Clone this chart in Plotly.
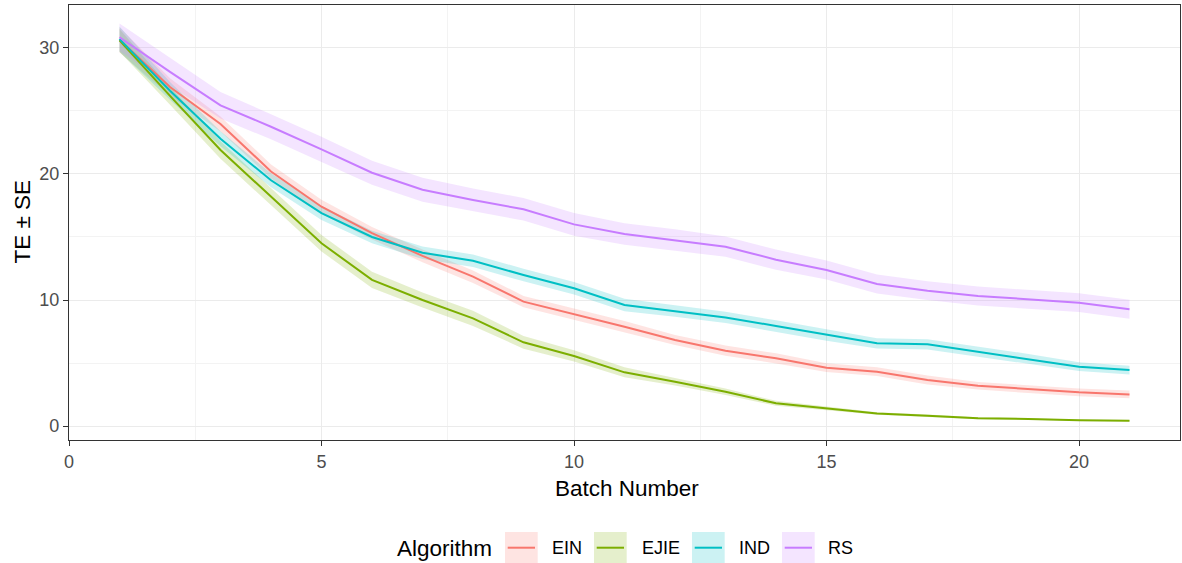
import plotly.graph_objects as go

batch = list(range(1, 22))
algorithms = ["EIN", "EJIE", "IND", "RS"]
colors = ["#F8766D", "#7CAE00", "#00BFC4", "#C77CFF"]

te_ein = [30.65, 26.9, 23.97, 20.2, 17.4, 15.3, 13.5, 11.85, 9.87, 8.89, 7.88, 6.83, 5.98, 5.37, 4.63, 4.31, 3.65, 3.2, 2.91, 2.67, 2.51]
te_ejie = [30.6, 26.2, 21.9, 18.2, 14.5, 11.6, 10.0, 8.54, 6.64, 5.56, 4.26, 3.52, 2.72, 1.8, 1.4, 1.0, 0.82, 0.61, 0.56, 0.45, 0.42]
te_ind = [30.7, 26.6, 22.8, 19.5, 16.9, 15.0, 13.75, 13.12, 11.98, 10.93, 9.6, 9.13, 8.62, 7.94, 7.22, 6.56, 6.48, 5.9, 5.32, 4.71, 4.44]
te_rs = [30.85, 28.1, 25.45, 23.75, 21.96, 20.1, 18.75, 17.94, 17.2, 16.0, 15.24, 14.76, 14.23, 13.2, 12.38, 11.27, 10.74, 10.32, 10.05, 9.79, 9.26]

se_ein = [1.0, 0.7, 0.6, 0.55, 0.55, 0.5, 0.5, 0.5, 0.45, 0.45, 0.45, 0.4, 0.4, 0.4, 0.35, 0.35, 0.35, 0.3, 0.3, 0.3, 0.3]
se_ejie = [0.9, 0.7, 0.7, 0.7, 0.65, 0.65, 0.6, 0.6, 0.5, 0.45, 0.4, 0.3, 0.25, 0.2, 0.15, 0.1, 0.1, 0.08, 0.06, 0.05, 0.05]
se_ind = [1.0, 0.7, 0.6, 0.55, 0.55, 0.5, 0.5, 0.5, 0.5, 0.5, 0.5, 0.45, 0.45, 0.45, 0.45, 0.4, 0.4, 0.4, 0.4, 0.35, 0.35]
se_rs = [1.1, 1.1, 1.05, 1.0, 1.0, 0.95, 0.95, 0.9, 0.9, 0.9, 0.85, 0.85, 0.8, 0.8, 0.75, 0.75, 0.75, 0.75, 0.75, 0.75, 0.75]

te_all = [te_ein, te_ejie, te_ind, te_rs]
se_all = [se_ein, se_ejie, se_ind, se_rs]


def rgba(hexc, a):
    h = hexc.lstrip("#")
    r, g, b = int(h[0:2], 16), int(h[2:4], 16), int(h[4:6], 16)
    return f"rgba({r},{g},{b},{a})"


W, H = 1182, 563
ML, MR, MT, MB = 69, 2, 5, 123
PW, PH = W - ML - MR, H - MT - MB


def px(xp):
    return (xp - ML) / PW


def py(yp):
    return (H - MB - yp) / PH


fig = go.Figure()

# ribbons
for name, col, te, se in zip(algorithms, colors, te_all, se_all):
    upper = [t + s for t, s in zip(te, se)]
    lower = [t - s for t, s in zip(te, se)]
    fig.add_trace(go.Scatter(x=batch, y=upper, mode="lines", line=dict(width=0),
                             showlegend=False, hoverinfo="skip"))
    fig.add_trace(go.Scatter(x=batch, y=lower, mode="lines", line=dict(width=0),
                             fill="tonexty", fillcolor=rgba(col, 0.2),
                             showlegend=False, hoverinfo="skip"))

# lines
for name, col, te in zip(algorithms, colors, te_all):
    fig.add_trace(go.Scatter(x=batch, y=te, mode="lines", name=name,
                             line=dict(color=col, width=2), showlegend=False))

font_family = "Liberation Sans, Arial, Helvetica, sans-serif"

axis_common = dict(
    showline=True, linecolor="#333333", linewidth=1.3, mirror=True,
    ticks="outside", ticklen=5, tickwidth=1.3, tickcolor="#333333",
    tickfont=dict(family=font_family, size=18, color="#4D4D4D"),
    showgrid=True, gridcolor="#EBEBEB", gridwidth=1.3,
    zeroline=False,
)

fig.update_layout(
    width=W, height=H,
    margin=dict(l=ML, r=MR, t=MT, b=MB),
    paper_bgcolor="white", plot_bgcolor="white",
    showlegend=False,
    font=dict(family=font_family),
    xaxis=dict(range=[0, 22], tickvals=[0, 5, 10, 15, 20],
               minor=dict(tickvals=[2.5, 7.5, 12.5, 17.5], showgrid=True,
                          gridcolor="#F3F3F3", gridwidth=0.8, ticks=""),
               **axis_common),
    yaxis=dict(range=[-1.11, 33.41], tickvals=[0, 10, 20, 30],
               minor=dict(tickvals=[5, 15, 25], showgrid=True,
                          gridcolor="#F3F3F3", gridwidth=0.8, ticks=""),
               **axis_common),
)

annotations = [
    dict(text="Batch Number", x=px(627), y=py(489), xref="paper", yref="paper",
         showarrow=False, font=dict(size=22.5, color="black", family=font_family),
         xanchor="center", yanchor="middle"),
    dict(text="TE ± SE", x=px(21.5), y=py(222), xref="paper", yref="paper",
         showarrow=False, textangle=-90,
         font=dict(size=22.5, color="black", family=font_family),
         xanchor="center", yanchor="middle"),
    dict(text="Algorithm", x=px(395), y=py(548), xref="paper", yref="paper",
         showarrow=False, font=dict(size=22.5, color="black", family=font_family),
         xanchor="left", yanchor="middle"),
]

shapes = []
key_left = [505, 594, 692, 782]
label_left = [550, 640, 737, 826]
for name, col, kl, ll in zip(algorithms, colors, key_left, label_left):
    shapes.append(dict(type="rect", xref="paper", yref="paper",
                       x0=px(kl), x1=px(kl + 32.7), y0=py(532), y1=py(564),
                       fillcolor=rgba(col, 0.2), line=dict(width=0)))
    shapes.append(dict(type="line", xref="paper", yref="paper",
                       x0=px(kl + 2.7), x1=px(kl + 30), y0=py(547.7), y1=py(547.7),
                       line=dict(color=col, width=2)))
    annotations.append(dict(text=name, x=px(ll), y=py(548), xref="paper", yref="paper",
                            showarrow=False, xanchor="left", yanchor="middle",
                            font=dict(size=18, color="black", family=font_family)))

fig.update_layout(annotations=annotations, shapes=shapes)

fig.write_html("out.html")
